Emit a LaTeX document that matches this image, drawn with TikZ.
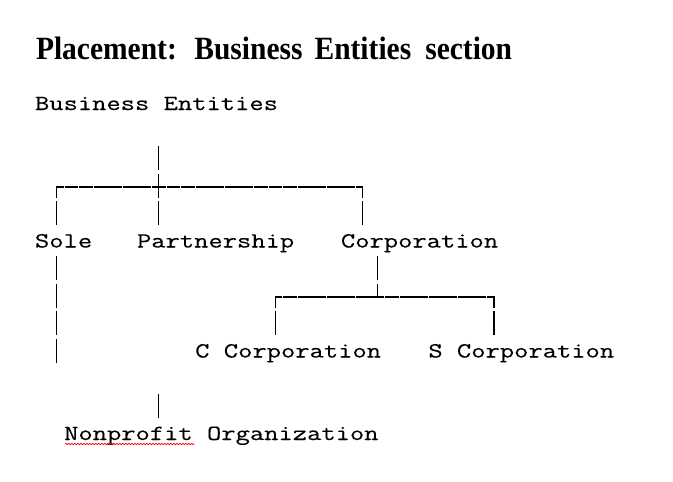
\documentclass[tikz,border=0pt]{standalone}
\usepackage{fontspec}
\setmainfont{Liberation Serif}
\newfontfamily\typewriter[FakeBold=0.25]{Latin Modern Mono}
\usetikzlibrary{decorations.pathmorphing}
\newcommand\colc[1]{35+14.57*(#1+0.5)}
\newcommand\colx[1]{35+14.57*(#1)}
\newcommand\monotext[1]{\scalebox{1}[0.78]{#1}}
\begin{document}
\begin{tikzpicture}[x=1pt,y=-1pt,
  mono/.style={font=\typewriter\fontsize{27.75}{27.5}\selectfont, anchor=base west, inner sep=0pt, outer sep=0pt},
  titletext/.style={font=\bfseries\fontsize{29.5}{32}\selectfont, anchor=base west, inner sep=0pt, outer sep=0pt},
  vline/.style={line width=1.2pt, dash pattern=on 24pt off 3.5pt},
  cornerline/.style={vline, dash phase=12.9pt},
  hline/.style={line width=1.2pt, dash pattern=on 13.97pt off 0.6pt, dash phase=6.3pt},
  spell/.style={draw=red, line width=0.6pt, decorate, decoration={zigzag, segment length=3pt, amplitude=0.8pt}}]
\useasboundingbox (0,0) rectangle (673,482);
\fill[white] (0,0) rectangle (673,482);
% title
\node[titletext] (title) at (36,59.5) {\scalebox{1}[1.1]{Placement:\hspace{17.5pt}Business\hspace{12pt}Entities\hspace{14pt}section}};
% text nodes
\node[mono] (be) at ({\colx{0}},110) {\monotext{Business Entities}};
\node[mono] (sole) at ({\colx{0}},247.5) {\monotext{Sole}};
\node[mono] (pship) at ({\colx{7}},247.5) {\monotext{Partnership}};
\node[mono] (corp) at ({\colx{21}},247.5) {\monotext{Corporation}};
\node[mono] (ccorp) at ({\colx{11}},357.5) {\monotext{C Corporation}};
\node[mono] (scorp) at ({\colx{27}},357.5) {\monotext{S Corporation}};
\node[mono] (nonprofit) at ({\colx{2}},440) {\monotext{Nonprofit Organization}};
% junction coordinates
\coordinate (be-drop) at ({\colc{8}},146);
\coordinate (pship-top) at ({\colc{8}},225);
\coordinate (bar1-l) at ({\colc{1}-0.6},187);
\coordinate (bar1-r) at ({\colc{22}+0.6},187);
\coordinate (sole-corner) at ({\colc{1}},186.4);
\coordinate (corp-corner) at ({\colc{22}},186.4);
\coordinate (sole-top) at ({\colc{1}},225);
\coordinate (corp-top) at ({\colc{22}},225);
\coordinate (sole-drop) at ({\colc{1}},256);
\coordinate (sole-end) at ({\colc{1}},362.5);
\coordinate (corp-drop) at ({\colc{23}},256);
\coordinate (bar2-mid) at ({\colc{23}},297);
\coordinate (bar2-l) at ({\colc{16}-0.6},297);
\coordinate (bar2-r) at ({\colc{31}+0.6},297);
\coordinate (ccorp-corner) at ({\colc{16}},296.4);
\coordinate (scorp-corner) at ({\colc{31}},296.4);
\coordinate (ccorp-top) at ({\colc{16}},335);
\coordinate (scorp-top) at ({\colc{31}},335);
\coordinate (np-stem) at ({\colc{8}},393.5);
\coordinate (np-top) at ({\colc{8}},417.5);
\coordinate (np-ul-a) at ({\colx{2}+1},444);
\coordinate (np-ul-b) at ({\colx{11}-1},444);
% connectors
\draw[vline] (be-drop) -- (pship-top);
\draw[hline] (bar1-l) -- (bar1-r);
\draw[cornerline] (sole-corner) -- (sole-top);
\draw[cornerline] (corp-corner) -- (corp-top);
\draw[vline] (sole-drop) -- (sole-end);
\draw[vline] (corp-drop) -- (bar2-mid);
\draw[hline] (bar2-l) -- (bar2-r);
\draw[cornerline] (ccorp-corner) -- (ccorp-top);
\draw[cornerline] (scorp-corner) -- (scorp-top);
\draw[vline] (np-stem) -- (np-top);
\draw[spell] (np-ul-a) -- (np-ul-b);
\end{tikzpicture}
\end{document}
